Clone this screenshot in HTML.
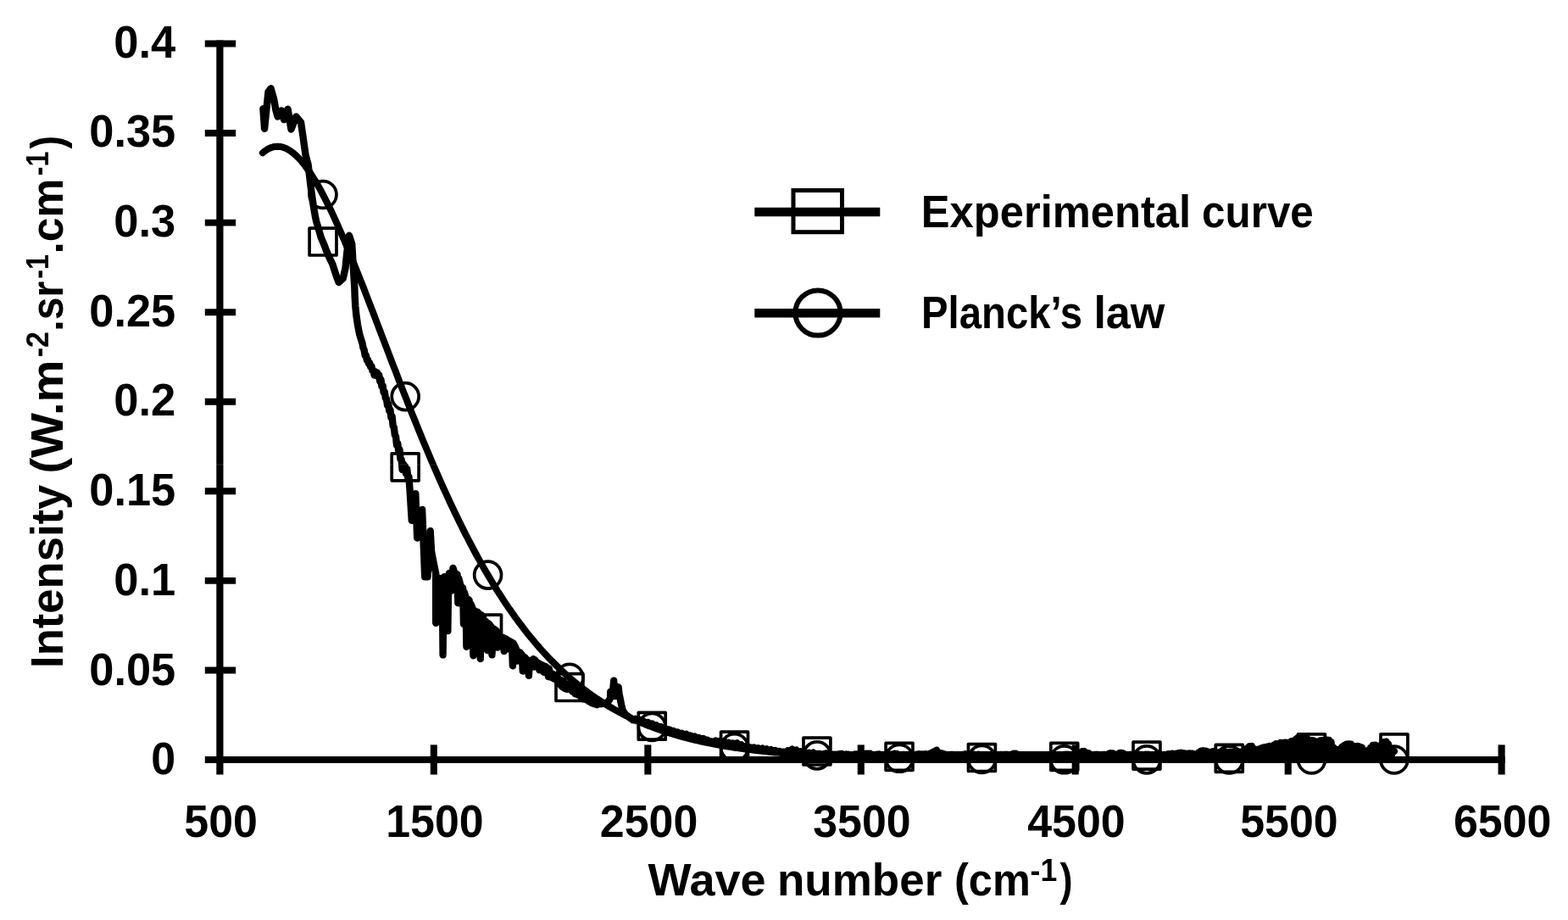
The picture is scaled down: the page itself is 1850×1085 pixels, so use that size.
<!DOCTYPE html>
<html lang="en">
<head>
<meta charset="utf-8">
<title>Experimental curve vs Planck’s law</title>
<style>html,body{margin:0;padding:0;background:#fff;}body{width:1850px;height:1085px;overflow:hidden;}</style>
</head>
<body>
<svg width="1850" height="1085" viewBox="0 0 1850 1085" style="display:block">
<rect width="1850" height="1085" fill="#fff"/>
<path d="M310.4,128.2 L312.1,151.7 L316.5,108.3 L319.6,104.3 L323.2,117.2 L325.4,129.6 L327.6,137.5 L332.0,130.4 L335.1,141.1 L339.6,128.7 L343.5,152.6 L349.3,137.5 L355.0,144.2 L357.5,161.0 L360.6,183.2 L363.6,194.2 L366.2,216.4 L369.1,238.5 L371.9,255.1 L373.2,261.1 L376.5,272.1 L378.7,279.9 L382.0,287.6 L385.4,296.5 L388.7,304.2 L392.5,311.9 L395.3,320.8 L397.5,327.4 L399.7,333.0 L404.7,328.5 L407.5,316.4 L409.1,299.8 L411.9,277.7 L415.2,287.6 L416.9,316.4 L418.3,338.5 L418.7,350.0 L419.3,361.1 L420.4,372.1 L422.0,383.2 L424.2,394.2 L427.6,405.3 L428.5,410.2 L429.6,412.5 L430.7,419.1 L431.8,419.2 L432.9,424.6 L434.0,424.4 L435.1,428.9 L436.2,428.1 L437.3,432.8 L438.4,432.1 L439.5,437.4 L440.6,437.6 L441.7,442.5 L442.8,438.3 L443.9,442.2 L445.0,439.4 L446.1,444.2 L447.2,442.4 L448.3,449.9 L449.4,447.6 L450.5,456.0 L451.6,454.9 L452.7,462.9 L453.8,462.1 L454.9,469.7 L456.0,470.5 L457.1,478.2 L458.2,476.3 L459.3,484.6 L460.4,483.3 L461.5,492.8 L462.6,491.1 L463.7,502.4 L464.8,504.0 L465.9,513.1 L467.0,514.7 L468.1,525.2 L469.2,522.9 L470.3,532.0 L471.4,530.2 L472.5,541.5 L473.6,542.0 L474.7,554.1 L475.8,547.2 L476.9,554.2 L478.0,549.8 L479.1,558.7 L480.2,553.0 L481.3,563.5 L482.4,562.2 L483.5,577.2 L485.8,613.9 L490.3,582.2 L492.2,634.5 L498.1,600.9 L501.2,680.3 L504.5,680.3 L507.7,626.1 L509.0,650.0 L510.5,658.0 L512.5,668.0 L514.2,676.0 L514.2,734.8 L515.2,684.0 L519.0,682.0 L521.8,690.0 L522.6,772.4 L523.4,690.0 L524.2,680.3 L527.5,690.0 L528.3,744.1 L529.2,684.0 L530.0,676.0 L532.5,696.7 L534.5,670.0 L537.0,678.0 L539.5,677.3 L540.4,711.3 L541.3,682.4 L543.7,691.8 L546.1,693.3 L547.0,736.0 L547.9,698.8 L549.5,704.3 L550.4,762.7 L551.3,706.1 L553.6,707.8 L554.5,745.0 L555.4,712.2 L557.5,717.3 L558.4,773.3 L559.3,720.0 L561.6,721.2 L562.5,755.0 L563.4,721.8 L565.9,724.5 L566.8,776.9 L567.7,725.1 L570.1,728.3 L571.0,758.0 L571.9,731.9 L574.3,733.9 L575.2,767.1 L576.1,735.2 L577.9,737.0 L579.6,739.3 L580.5,772.4 L581.4,741.0 L583.6,742.4 L585.8,743.9 L586.7,763.6 L587.6,746.2 L589.6,749.9 L590.5,762.0 L591.4,751.3 L593.8,752.1 L594.7,768.0 L595.6,752.9 L597.4,753.9 L599.1,754.7 L600.0,765.4 L600.9,755.9 L602.5,757.1 L604.0,757.6 L604.9,785.3 L605.8,758.8 L607.8,762.7 L609.7,767.2 L610.6,779.5 L611.5,769.3 L613.7,769.5 L615.9,772.3 L616.8,791.5 L617.7,774.5 L619.6,775.5 L620.5,786.0 L621.4,777.7 L623.0,779.1 L623.9,796.8 L624.8,779.1 L627.0,779.1 L629.2,777.3 L630.1,786.6 L631.0,778.2 L633.2,781.1 L635.4,782.3 L636.3,790.1 L637.2,783.2 L639.0,784.0 L640.7,784.8 L641.6,792.8 L642.5,785.6 L644.2,786.3 L646.0,787.9 L646.9,798.1 L647.8,788.6 L650.0,798.8 L651.6,794.4 L653.2,800.3 L654.8,796.2 L656.4,802.0 L658.0,798.9 L659.6,804.3 L661.2,801.7 L662.8,806.2 L664.4,802.9 L666.0,808.5 L667.6,806.1 L669.2,811.1 L670.8,807.6 L672.4,813.0 L674.0,810.7 L675.6,815.8 L677.2,812.3 L678.8,818.3 L680.4,814.6 L682.0,819.6 L683.6,817.4 L685.2,821.7 L686.8,818.9 L688.4,824.3 L690.0,821.8 L691.6,825.4 L693.2,823.7 L694.8,827.2 L696.4,825.4 L698.0,829.2 L699.6,827.5 L701.2,830.3 L702.8,828.4 L704.4,831.2 L706.0,829.0 L709.6,830.2 L714.0,829.5 L718.0,827.0 L720.3,823.0 L720.3,815.6 L721.5,821.0 L723.2,814.0 L724.2,802.8 L725.0,814.0 L725.5,821.0 L727.5,811.0 L728.0,821.0 L729.6,810.3 L730.5,818.0 L731.5,823.0 L733.5,833.0 L735.0,838.5 L738.0,842.5 L745.0,847.9 L747.0,849.3 L749.5,847.9 L752.0,850.0 L754.5,849.0 L757.0,851.4 L759.5,850.8 L762.0,853.0 L764.5,852.0 L767.0,854.5 L769.5,853.5 L772.0,855.8 L774.5,855.3 L777.0,857.5 L779.5,857.0 L782.0,859.2 L784.5,858.9 L787.0,860.8 L789.5,860.4 L792.0,862.4 L794.5,862.0 L797.0,863.8 L799.5,863.5 L802.0,865.3 L804.5,864.8 L807.0,866.6 L809.5,865.8 L812.0,868.2 L814.5,867.4 L817.0,869.2 L819.5,868.5 L822.0,870.5 L824.5,869.9 L827.0,872.0 L829.5,870.9 L832.0,873.3 L834.5,872.6 L837.0,874.7 L839.5,874.4 L842.0,875.6 L844.5,873.6 L847.0,874.8 L849.5,873.8 L852.0,875.4 L854.5,874.4 L857.0,876.6 L859.5,875.8 L862.0,877.4 L864.5,876.4 L867.0,877.9 L869.5,876.4 L872.0,879.0 L874.5,878.2 L877.0,880.7 L879.5,880.3 L882.0,882.5 L884.5,881.2 L887.0,883.0 L889.5,881.4 L892.0,883.1 L894.5,882.2 L897.0,884.0 L899.5,882.5 L902.0,884.8 L904.5,883.4 L907.0,885.5 L909.5,884.1 L912.0,886.0 L914.5,885.0 L917.0,886.8 L919.5,886.0 L922.0,887.4 L924.5,886.6 L927.0,887.7 L929.5,885.3 L932.0,886.2 L934.5,883.6 L937.0,885.8 L939.5,884.6 L942.0,887.3 L944.5,886.3 L947.0,888.3 L949.5,887.5 L952.0,888.8 L954.5,887.7 L957.0,889.3 L959.5,887.6 L962.0,889.4 L963.3,890.2 L964.6,888.9 L965.9,890.2 L967.2,889.1 L968.5,890.2 L969.8,889.4 L971.1,890.2 L972.4,889.1 L973.7,890.2 L975.0,888.5 L976.3,890.2 L977.6,889.4 L978.9,890.2 L980.2,889.9 L981.5,890.2 L982.8,889.8 L984.1,890.2 L985.4,889.8 L986.7,890.2 L988.0,889.6 L989.3,890.2 L990.6,889.2 L991.9,890.2 L993.2,888.9 L994.5,890.2 L995.8,889.9 L997.1,890.2 L998.4,889.5 L999.7,890.2 L1001.0,889.8 L1002.3,890.2 L1003.6,890.3 L1004.9,890.2 L1006.2,890.2 L1007.5,890.2 L1008.8,889.4 L1010.1,890.2 L1011.4,889.4 L1012.7,890.2 L1014.0,890.2 L1015.3,890.2 L1016.6,890.2 L1017.9,890.2 L1019.2,889.6 L1020.5,890.2 L1021.8,889.0 L1023.1,890.2 L1024.4,889.0 L1025.7,890.2 L1027.0,889.0 L1028.3,890.2 L1029.6,890.1 L1030.9,890.2 L1032.2,890.3 L1033.5,890.2 L1034.8,889.6 L1036.1,890.2 L1037.4,889.4 L1038.7,890.2 L1040.0,890.3 L1041.3,890.2 L1042.6,890.6 L1043.9,890.2 L1045.2,890.1 L1046.5,890.2 L1047.8,889.6 L1049.1,890.2 L1050.4,889.6 L1051.7,890.2 L1053.0,889.5 L1054.3,890.2 L1055.6,889.0 L1056.9,890.2 L1058.2,888.9 L1059.5,890.2 L1060.8,890.4 L1062.1,890.2 L1063.4,890.2 L1064.7,890.2 L1066.0,889.9 L1067.3,890.2 L1068.6,890.1 L1069.9,890.2 L1071.2,890.3 L1072.5,890.2 L1073.8,889.7 L1075.1,890.2 L1076.4,890.4 L1077.7,890.2 L1079.0,890.4 L1080.3,890.2 L1081.6,889.7 L1082.9,890.2 L1084.2,889.3 L1085.5,890.2 L1086.8,889.4 L1088.1,890.2 L1089.4,889.4 L1090.7,890.2 L1092.0,889.3 L1093.3,890.2 L1094.6,889.7 L1095.9,890.2 L1097.2,888.8 L1098.5,890.2 L1099.8,887.6 L1101.1,890.2 L1102.4,886.1 L1103.7,890.2 L1105.0,884.7 L1106.3,890.2 L1107.6,887.5 L1108.9,890.2 L1110.2,888.3 L1111.5,890.2 L1112.8,889.1 L1114.1,890.2 L1115.4,889.8 L1116.7,890.2 L1118.0,890.3 L1119.3,890.2 L1120.6,890.6 L1121.9,890.2 L1123.2,889.9 L1124.5,890.2 L1125.8,890.6 L1127.1,890.2 L1128.4,890.3 L1129.7,890.2 L1131.0,890.1 L1132.3,890.2 L1133.6,890.1 L1134.9,890.2 L1136.2,890.0 L1137.5,890.2 L1138.8,889.3 L1140.1,890.2 L1141.4,889.9 L1142.7,890.2 L1144.0,889.7 L1145.3,890.2 L1146.6,889.4 L1147.9,890.2 L1149.2,889.8 L1150.5,890.2 L1151.8,890.5 L1153.1,890.2 L1154.4,889.7 L1155.7,890.2 L1157.0,890.1 L1158.3,890.2 L1159.6,890.5 L1160.9,890.2 L1162.2,890.5 L1163.5,890.2 L1164.8,890.2 L1166.1,890.2 L1167.4,890.1 L1168.7,890.2 L1170.0,890.3 L1171.3,890.2 L1172.6,890.4 L1173.9,890.2 L1175.2,890.6 L1176.5,890.2 L1177.8,890.1 L1179.1,890.2 L1180.4,890.0 L1181.7,890.2 L1183.0,890.3 L1184.3,890.2 L1185.6,889.9 L1186.9,890.2 L1188.2,890.0 L1189.5,890.2 L1190.8,890.4 L1192.1,890.2 L1193.4,889.6 L1194.7,890.2 L1196.0,888.7 L1197.3,890.2 L1198.6,888.8 L1199.9,890.2 L1201.2,890.0 L1202.5,890.2 L1203.8,890.6 L1205.1,890.2 L1206.4,890.4 L1207.7,890.2 L1209.0,890.5 L1210.3,890.2 L1211.6,890.5 L1212.9,890.2 L1214.2,890.4 L1215.5,890.2 L1216.8,890.5 L1218.1,890.2 L1219.4,890.6 L1220.7,890.2 L1222.0,890.4 L1223.3,890.2 L1224.6,890.4 L1225.9,890.2 L1227.2,890.4 L1228.5,890.2 L1229.8,890.6 L1231.1,890.2 L1232.4,890.6 L1233.7,890.2 L1235.0,890.6 L1236.3,890.2 L1237.6,890.6 L1238.9,890.2 L1240.2,890.6 L1241.5,890.2 L1242.8,890.5 L1244.1,890.2 L1245.4,890.2 L1246.7,890.2 L1248.0,890.6 L1249.3,890.2 L1250.6,890.6 L1251.9,890.2 L1253.2,890.6 L1254.5,890.2 L1255.8,890.0 L1257.1,890.2 L1258.4,889.7 L1259.7,890.2 L1261.0,890.0 L1262.3,890.2 L1263.6,890.1 L1264.9,890.2 L1266.2,889.7 L1267.5,890.2 L1268.8,889.9 L1270.1,890.2 L1271.4,888.6 L1272.7,890.2 L1274.0,887.6 L1275.3,890.2 L1276.6,886.3 L1277.9,890.2 L1279.2,886.0 L1280.5,890.2 L1281.8,887.7 L1283.1,890.2 L1284.4,888.3 L1285.7,890.2 L1287.0,890.1 L1288.3,890.2 L1289.6,890.4 L1290.9,890.2 L1292.2,889.9 L1293.5,890.2 L1294.8,890.0 L1296.1,890.2 L1297.4,890.6 L1298.7,890.2 L1300.0,890.6 L1301.3,890.2 L1302.6,890.0 L1303.9,890.2 L1305.2,890.2 L1306.5,890.2 L1307.8,889.1 L1309.1,890.2 L1310.4,888.1 L1311.7,890.2 L1313.0,888.4 L1314.3,890.2 L1315.6,889.9 L1316.9,890.2 L1318.2,889.7 L1319.5,890.2 L1320.8,888.0 L1322.1,890.2 L1323.4,887.9 L1324.7,890.2 L1326.0,889.0 L1327.3,890.2 L1328.6,890.1 L1329.9,890.2 L1331.2,890.3 L1332.5,890.2 L1333.8,890.0 L1335.1,890.2 L1336.4,890.1 L1337.7,890.2 L1339.0,890.6 L1340.3,890.2 L1341.6,890.3 L1342.9,890.2 L1344.2,889.8 L1345.5,890.2 L1346.8,890.5 L1348.1,890.2 L1349.4,890.2 L1350.7,890.2 L1352.0,889.6 L1353.3,890.2 L1354.6,889.8 L1355.9,890.2 L1357.2,890.2 L1358.5,890.2 L1359.8,890.4 L1361.1,890.2 L1362.4,890.1 L1363.7,890.2 L1365.0,889.4 L1366.3,890.2 L1367.6,890.6 L1368.9,890.2 L1370.2,890.6 L1371.5,890.2 L1372.8,890.6 L1374.1,890.2 L1375.4,890.3 L1376.7,890.2 L1378.0,889.3 L1379.3,890.2 L1380.6,889.3 L1381.9,890.2 L1383.2,888.6 L1384.5,890.2 L1385.8,889.2 L1387.1,890.2 L1388.4,888.8 L1389.7,890.2 L1391.0,888.0 L1392.3,890.2 L1393.6,887.7 L1394.9,890.2 L1396.2,888.1 L1397.5,890.2 L1398.8,888.9 L1400.1,890.2 L1401.4,888.8 L1402.7,890.2 L1404.0,888.5 L1405.3,890.2 L1406.6,888.6 L1407.9,890.2 L1409.2,889.3 L1410.5,890.2 L1411.8,889.9 L1413.1,890.2 L1414.4,887.3 L1415.7,890.2 L1417.0,885.7 L1418.3,890.2 L1419.6,885.2 L1420.9,890.2 L1422.2,885.6 L1423.5,890.2 L1424.8,886.5 L1426.1,890.2 L1427.4,887.1 L1428.7,890.2 L1430.0,886.5 L1431.3,890.2 L1432.6,885.9 L1433.9,890.2 L1435.2,887.1 L1436.5,890.2 L1437.8,887.7 L1439.1,890.2 L1440.4,887.7 L1441.7,890.2 L1443.0,887.7 L1444.3,890.2 L1445.6,886.5 L1446.9,890.2 L1448.2,887.6 L1449.5,890.2 L1450.8,886.7 L1452.1,890.2 L1453.4,886.9 L1454.7,890.2 L1456.0,887.2 L1457.3,890.2 L1458.6,886.6 L1459.9,890.2 L1461.2,886.4 L1462.5,890.2 L1463.8,886.6 L1465.1,890.2 L1466.4,886.3 L1467.7,890.2 L1469.0,884.5 L1470.3,890.2 L1471.6,882.1 L1472.9,890.2 L1474.2,880.1 L1475.5,890.2 L1476.8,880.0 L1478.1,890.2 L1479.4,883.0 L1480.7,890.2 L1482.0,884.0 L1483.3,890.2 L1484.6,883.7 L1485.9,890.2 L1487.2,882.6 L1488.5,890.2 L1489.8,881.7 L1491.1,890.2 L1492.4,881.3 L1493.7,890.2 L1495.0,880.8 L1496.3,890.2 L1497.6,880.0 L1498.9,890.2 L1500.2,879.9 L1501.5,890.2 L1502.8,878.7 L1504.1,890.2 L1505.4,877.2 L1506.7,890.2 L1508.0,877.1 L1509.3,890.2 L1510.6,876.0 L1511.9,890.2 L1513.2,876.2 L1514.5,890.2 L1515.8,875.7 L1517.1,890.2 L1518.4,875.9 L1519.7,890.2 L1521.0,875.7 L1522.3,890.2 L1523.6,874.3 L1524.9,890.2 L1526.2,873.8 L1527.5,890.2 L1528.8,871.8 L1530.1,890.2 L1531.4,870.0 L1532.7,890.2 L1534.0,869.5 L1535.3,890.2 L1536.6,870.5 L1537.9,890.2 L1539.2,871.8 L1540.5,890.2 L1541.8,870.5 L1543.1,890.2 L1544.4,873.2 L1545.7,890.2 L1547.0,873.3 L1548.3,890.2 L1549.6,873.5 L1550.9,890.2 L1552.2,874.4 L1553.5,890.2 L1554.8,875.0 L1556.1,890.2 L1557.4,873.5 L1558.7,890.2 L1560.0,873.1 L1561.3,890.2 L1562.6,872.8 L1563.9,890.2 L1565.2,872.8 L1566.5,890.2 L1567.8,872.9 L1569.1,890.2 L1570.4,875.2 L1571.7,890.2 L1573.0,881.5 L1574.3,890.2 L1575.6,883.4 L1576.9,890.2 L1578.2,885.3 L1579.5,890.2 L1580.8,883.4 L1582.1,890.2 L1583.4,880.8 L1584.7,890.2 L1586.0,879.0 L1587.3,890.2 L1588.6,877.6 L1589.9,890.2 L1591.2,877.4 L1592.5,890.2 L1593.8,877.7 L1595.1,890.2 L1596.4,879.6 L1597.7,890.2 L1599.0,880.1 L1600.3,890.2 L1601.6,879.9 L1602.9,890.2 L1604.2,880.6 L1605.5,890.2 L1606.8,881.6 L1608.1,890.2 L1609.4,884.8 L1610.7,890.2 L1612.0,886.2 L1613.3,890.2 L1614.6,884.7 L1615.9,890.2 L1617.2,881.6 L1618.5,890.2 L1619.8,878.9 L1621.1,890.2 L1622.4,878.7 L1623.7,890.2 L1625.0,880.4 L1626.3,890.2 L1627.6,879.8 L1628.9,890.2 L1630.2,877.4 L1631.5,890.2 L1632.8,875.1 L1634.1,890.2 L1635.4,874.7 L1636.7,890.2 L1638.0,877.7 L1639.3,890.2 L1640.6,883.1 L1641.9,890.2 L1643.2,886.5 L1645.0,886.0" fill="none" stroke="#000" stroke-width="8.4" stroke-linejoin="round" stroke-linecap="round"/>
<rect x="365.1" y="269.1" width="31.9" height="31.9" fill="none" stroke="#000" stroke-width="3.7" stroke-linejoin="round"/>
<rect x="462.2" y="534.9" width="31.9" height="31.9" fill="none" stroke="#000" stroke-width="3.7" stroke-linejoin="round"/>
<rect x="559.6" y="725.1" width="31.9" height="31.9" fill="none" stroke="#000" stroke-width="3.7" stroke-linejoin="round"/>
<rect x="656.0" y="794.6" width="31.9" height="31.9" fill="none" stroke="#000" stroke-width="3.7" stroke-linejoin="round"/>
<rect x="753.3" y="840.3" width="31.9" height="31.9" fill="none" stroke="#000" stroke-width="3.7" stroke-linejoin="round"/>
<rect x="850.6" y="863.2" width="31.9" height="31.9" fill="none" stroke="#000" stroke-width="3.7" stroke-linejoin="round"/>
<rect x="948.0" y="870.1" width="31.9" height="31.9" fill="none" stroke="#000" stroke-width="3.7" stroke-linejoin="round"/>
<rect x="1045.1" y="876.4" width="31.9" height="31.9" fill="none" stroke="#000" stroke-width="3.7" stroke-linejoin="round"/>
<rect x="1142.5" y="877.6" width="31.9" height="31.9" fill="none" stroke="#000" stroke-width="3.7" stroke-linejoin="round"/>
<rect x="1239.8" y="876.4" width="31.9" height="31.9" fill="none" stroke="#000" stroke-width="3.7" stroke-linejoin="round"/>
<rect x="1337.0" y="875.2" width="31.9" height="31.9" fill="none" stroke="#000" stroke-width="3.7" stroke-linejoin="round"/>
<rect x="1434.3" y="878.4" width="31.9" height="31.9" fill="none" stroke="#000" stroke-width="3.7" stroke-linejoin="round"/>
<rect x="1531.5" y="865.8" width="31.9" height="31.9" fill="none" stroke="#000" stroke-width="3.7" stroke-linejoin="round"/>
<rect x="1629.0" y="865.8" width="31.9" height="31.9" fill="none" stroke="#000" stroke-width="3.7" stroke-linejoin="round"/>
<path d="M309.9,180.3 L312.4,178.2 L314.9,176.5 L317.5,175.1 L320.0,174.0 L322.5,173.3 L325.0,172.9 L327.5,172.7 L330.1,172.9 L332.6,173.4 L335.1,174.1 L337.6,175.2 L340.2,176.5 L342.7,178.1 L345.2,179.9 L347.7,182.0 L350.2,184.3 L352.8,186.9 L355.3,189.6 L357.8,192.7 L360.3,195.9 L362.8,199.3 L365.4,202.9 L367.9,206.8 L370.4,210.8 L372.9,214.9 L375.4,219.3 L378.0,223.8 L380.5,228.5 L383.0,233.3 L385.5,238.3 L388.0,243.3 L390.6,248.6 L393.1,253.9 L395.6,259.4 L398.1,264.9 L400.6,270.6 L403.2,276.4 L405.7,282.3 L408.2,288.2 L410.7,294.2 L413.2,300.3 L415.8,306.5 L418.3,312.7 L420.8,319.0 L423.3,325.3 L425.8,331.7 L428.4,338.1 L430.9,344.6 L433.4,351.1 L435.9,357.6 L438.4,364.2 L441.0,370.7 L443.5,377.3 L446.0,383.9 L448.5,390.5 L451.0,397.1 L453.6,403.7 L456.1,410.3 L458.6,416.9 L461.1,423.5 L463.6,430.1 L466.2,436.6 L468.7,443.2 L471.2,449.7 L473.7,456.2 L476.2,462.6 L478.8,469.1 L481.3,475.5 L483.8,481.8 L486.3,488.2 L488.9,494.4 L491.4,500.7 L493.9,506.9 L496.4,513.1 L498.9,519.2 L501.5,525.3 L504.0,531.3 L506.5,537.3 L509.0,543.2 L511.5,549.0 L514.1,554.9 L516.6,560.6 L519.1,566.3 L521.6,572.0 L524.1,577.5 L526.7,583.1 L529.2,588.5 L531.7,594.0 L534.2,599.3 L536.7,604.6 L539.3,609.8 L541.8,615.0 L544.3,620.1 L546.8,625.1 L549.3,630.1 L551.9,635.0 L554.4,639.9 L556.9,644.6 L559.4,649.4 L561.9,654.0 L564.5,658.6 L567.0,663.1 L569.5,667.6 L572.0,672.0 L574.5,676.3 L577.1,680.6 L579.6,684.8 L582.1,689.0 L584.6,693.1 L587.1,697.1 L589.7,701.0 L592.2,704.9 L594.7,708.8 L597.2,712.6 L599.7,716.3 L602.3,719.9 L604.8,723.5 L607.3,727.1 L609.8,730.5 L612.3,734.0 L614.9,737.3 L617.4,740.6 L619.9,743.9 L622.4,747.1 L624.9,750.2 L627.5,753.3 L630.0,756.3 L632.5,759.3 L635.0,762.2 L637.5,765.1 L640.1,767.9 L642.6,770.7 L645.1,773.4 L647.6,776.0 L650.2,778.7 L652.7,781.2 L655.2,783.7 L657.7,786.2 L660.2,788.6 L662.8,791.0 L665.3,793.3 L667.8,795.6 L670.3,797.9 L672.8,800.1 L675.4,802.2 L677.9,804.3 L680.4,806.4 L682.9,808.4 L685.4,810.4 L688.0,812.4 L690.5,814.3 L693.0,816.1 L695.5,818.0 L698.0,819.8 L700.6,821.5 L703.1,823.2 L705.6,824.9 L708.1,826.6 L710.6,828.2 L713.2,829.8 L715.7,831.3 L718.2,832.9 L720.7,834.3 L723.2,835.8 L725.8,837.2 L728.3,838.6 L730.8,840.0 L733.3,841.3 L735.8,842.6 L738.4,843.9 L740.9,845.1 L743.4,846.3 L745.9,847.5 L748.4,848.7 L751.0,849.8 L753.5,851.0 L756.0,852.0 L758.5,853.1 L761.0,854.2 L763.6,855.2 L766.1,856.2 L768.6,857.1 L771.1,858.1 L773.6,859.0 L776.2,859.9 L778.7,860.8 L781.2,861.7 L783.7,862.5 L786.2,863.4 L788.8,864.2 L791.3,865.0 L793.8,865.7 L796.3,866.5 L798.9,867.2 L801.4,868.0 L803.9,868.7 L806.4,869.3 L808.9,870.0 L811.5,870.7 L814.0,871.3 L816.5,871.9 L819.0,872.5 L821.5,873.1 L824.1,873.7 L826.6,874.3 L829.1,874.8 L831.6,875.4 L834.1,875.9 L836.7,876.4 L839.2,876.9 L841.7,877.4 L844.2,877.9 L846.7,878.4 L849.3,878.8 L851.8,879.3 L854.3,879.7 L856.8,880.1 L859.3,880.5 L861.9,880.9 L864.4,881.3 L866.9,881.7 L869.4,882.1 L871.9,882.4 L874.5,882.8 L877.0,883.1 L879.5,883.5 L882.0,883.8 L884.5,884.1 L887.1,884.4 L889.6,884.7 L892.1,885.0 L894.6,885.3 L897.1,885.6 L899.7,885.9 L902.2,886.1 L904.7,886.4 L907.2,886.7 L909.7,886.9 L912.3,887.2 L914.8,887.4 L917.3,887.6 L919.8,887.8 L922.3,888.1 L924.9,888.3 L927.4,888.5 L929.9,888.7 L932.4,888.9 L934.9,889.1 L937.5,889.3 L940.0,889.4 L942.5,889.6 L945.0,889.8 L947.6,890.0 L950.1,890.1 L952.6,890.3 L955.1,890.4 L957.6,890.6 L960.2,890.7 L962.7,890.9 L965.2,891.0 L967.7,891.1 L970.2,891.3 L972.8,891.4 L975.3,891.5 L977.8,891.7 L980.3,891.8 L982.8,891.9 L985.4,892.0 L987.9,892.1 L990.4,892.2 L992.9,892.3 L995.4,892.4 L998.0,892.5 L1000.5,892.6 L1003.0,892.7 L1005.5,892.8 L1008.0,892.9 L1010.6,893.0 L1013.1,893.1 L1015.6,893.1 L1018.1,893.2 L1020.6,893.3 L1023.2,893.4 L1025.7,893.4 L1028.2,893.5 L1030.7,893.6 L1033.2,893.7 L1035.8,893.7 L1038.3,893.8 L1040.8,893.8 L1043.3,893.9 L1045.8,894.0 L1048.4,894.0 L1050.9,894.1 L1053.4,894.1 L1055.9,894.2 L1058.4,894.2 L1061.0,894.3 L1063.5,894.3 L1066.0,894.4 L1068.5,894.4 L1071.0,894.5 L1073.6,894.5 L1076.1,894.6 L1078.6,894.6 L1081.1,894.6 L1083.6,894.7 L1086.2,894.7 L1088.7,894.7 L1091.2,894.8 L1093.7,894.8 L1096.3,894.9 L1098.8,894.9 L1101.3,894.9 L1103.8,894.9 L1106.3,895.0 L1108.9,895.0 L1111.4,895.0 L1113.9,895.1 L1116.4,895.1 L1118.9,895.1 L1121.5,895.1 L1124.0,895.2 L1126.5,895.2 L1129.0,895.2 L1131.5,895.2 L1134.1,895.3 L1136.6,895.3 L1139.1,895.3 L1141.6,895.3 L1144.1,895.3 L1146.7,895.4 L1149.2,895.4 L1151.7,895.4 L1154.2,895.4 L1156.7,895.4 L1159.3,895.4 L1161.8,895.5 L1164.3,895.5 L1166.8,895.5 L1169.3,895.5 L1171.9,895.5 L1174.4,895.5 L1176.9,895.5 L1179.4,895.6 L1181.9,895.6 L1184.5,895.6 L1187.0,895.6 L1189.5,895.6 L1192.0,895.6 L1194.5,895.6 L1197.1,895.6 L1199.6,895.7 L1202.1,895.7 L1204.6,895.7 L1207.1,895.7 L1209.7,895.7 L1212.2,895.7 L1214.7,895.7 L1217.2,895.7 L1219.7,895.7 L1222.3,895.7 L1224.8,895.7 L1227.3,895.7 L1229.8,895.8 L1232.3,895.8 L1234.9,895.8 L1237.4,895.8 L1239.9,895.8 L1242.4,895.8 L1245.0,895.8 L1247.5,895.8 L1250.0,895.8 L1252.5,895.8 L1255.0,895.8 L1257.6,895.8 L1260.1,895.8 L1262.6,895.8 L1265.1,895.8 L1267.6,895.8 L1270.2,895.8 L1272.7,895.9 L1275.2,895.9 L1277.7,895.9 L1280.2,895.9 L1282.8,895.9 L1285.3,895.9 L1287.8,895.9 L1290.3,895.9 L1292.8,895.9 L1295.4,895.9 L1297.9,895.9 L1300.4,895.9 L1302.9,895.9 L1305.4,895.9 L1308.0,895.9 L1310.5,895.9 L1313.0,895.9 L1315.5,895.9 L1318.0,895.9 L1320.6,895.9 L1323.1,895.9 L1325.6,895.9 L1328.1,895.9 L1330.6,895.9 L1333.2,895.9 L1335.7,895.9 L1338.2,895.9 L1340.7,895.9 L1343.2,895.9 L1345.8,895.9 L1348.3,895.9 L1350.8,895.9 L1353.3,895.9 L1355.8,895.9 L1358.4,895.9 L1360.9,895.9 L1363.4,896.0 L1365.9,896.0 L1368.4,896.0 L1371.0,896.0 L1373.5,896.0 L1376.0,896.0 L1378.5,896.0 L1381.0,896.0 L1383.6,896.0 L1386.1,896.0 L1388.6,896.0 L1391.1,896.0 L1393.7,896.0 L1396.2,896.0 L1398.7,896.0 L1401.2,896.0 L1403.7,896.0 L1406.3,896.0 L1408.8,896.0 L1411.3,896.0 L1413.8,896.0 L1416.3,896.0 L1418.9,896.0 L1421.4,896.0 L1423.9,896.0 L1426.4,896.0 L1428.9,896.0 L1431.5,896.0 L1434.0,896.0 L1436.5,896.0 L1439.0,896.0 L1441.5,896.0 L1444.1,896.0 L1446.6,896.0 L1449.1,896.0 L1451.6,896.0 L1454.1,896.0 L1456.7,896.0 L1459.2,896.0 L1461.7,896.0 L1464.2,896.0 L1466.7,896.0 L1469.3,896.0 L1471.8,896.0 L1474.3,896.0 L1476.8,896.0 L1479.3,896.0 L1481.9,896.0 L1484.4,896.0 L1486.9,896.0 L1489.4,896.0 L1491.9,896.0 L1494.5,896.0 L1497.0,896.0 L1499.5,896.0 L1502.0,896.0 L1504.5,896.0 L1507.1,896.0 L1509.6,896.0 L1512.1,896.0 L1514.6,896.0 L1517.1,896.0 L1519.7,896.0 L1522.2,896.0 L1524.7,896.0 L1527.2,896.0 L1529.7,896.0 L1532.3,896.0 L1534.8,896.0 L1537.3,896.0 L1539.8,896.0 L1542.3,896.0 L1544.9,896.0 L1547.4,896.0 L1549.9,896.0 L1552.4,896.0 L1555.0,896.0 L1557.5,896.0 L1560.0,896.0 L1562.5,896.0 L1565.0,896.0 L1567.6,896.0 L1570.1,896.0 L1572.6,896.0 L1575.1,896.0 L1577.6,896.0 L1580.2,896.0 L1582.7,896.0 L1585.2,896.0 L1587.7,896.0 L1590.2,896.0 L1592.8,896.0 L1595.3,896.0 L1597.8,896.0 L1600.3,896.0 L1602.8,896.0 L1605.4,896.0 L1607.9,896.0 L1610.4,896.0 L1612.9,896.0 L1615.4,896.0 L1618.0,896.0 L1620.5,896.0 L1623.0,896.0 L1625.5,896.0 L1628.0,896.0 L1630.6,896.0 L1633.1,896.0 L1635.6,896.0 L1638.1,896.0 L1640.6,896.0 L1643.2,896.0 L1645.7,896.0" fill="none" stroke="#000" stroke-width="8.0" stroke-linejoin="round" stroke-linecap="round"/>
<circle cx="381.0" cy="229.5" r="15.95" fill="none" stroke="#000" stroke-width="3.7"/>
<circle cx="478.2" cy="467.6" r="15.95" fill="none" stroke="#000" stroke-width="3.7"/>
<circle cx="575.6" cy="678.1" r="15.95" fill="none" stroke="#000" stroke-width="3.7"/>
<circle cx="672.0" cy="799.3" r="15.95" fill="none" stroke="#000" stroke-width="3.7"/>
<circle cx="769.3" cy="857.4" r="15.95" fill="none" stroke="#000" stroke-width="3.7"/>
<circle cx="866.6" cy="881.6" r="15.95" fill="none" stroke="#000" stroke-width="3.7"/>
<circle cx="964.0" cy="890.9" r="15.95" fill="none" stroke="#000" stroke-width="3.7"/>
<circle cx="1061.1" cy="894.3" r="15.95" fill="none" stroke="#000" stroke-width="3.7"/>
<circle cx="1158.5" cy="895.4" r="15.95" fill="none" stroke="#000" stroke-width="3.7"/>
<circle cx="1255.7" cy="895.8" r="15.95" fill="none" stroke="#000" stroke-width="3.7"/>
<circle cx="1353.0" cy="895.9" r="15.95" fill="none" stroke="#000" stroke-width="3.7"/>
<circle cx="1450.3" cy="896.0" r="15.95" fill="none" stroke="#000" stroke-width="3.7"/>
<circle cx="1547.5" cy="896.0" r="15.95" fill="none" stroke="#000" stroke-width="3.7"/>
<circle cx="1644.9" cy="896.0" r="15.95" fill="none" stroke="#000" stroke-width="3.7"/>
<g stroke="#000" stroke-width="7.9" fill="none">
<line x1="259.4" y1="47.4" x2="259.4" y2="913.5" stroke-width="8.2"/>
<line x1="241.8" y1="896.0" x2="1775.65" y2="896.0"/>
<line x1="241.8" y1="790.44" x2="278.2" y2="790.44"/>
<line x1="241.8" y1="684.88" x2="278.2" y2="684.88"/>
<line x1="241.8" y1="579.31" x2="278.2" y2="579.31"/>
<line x1="241.8" y1="473.75" x2="278.2" y2="473.75"/>
<line x1="241.8" y1="368.19" x2="278.2" y2="368.19"/>
<line x1="241.8" y1="262.62" x2="278.2" y2="262.62"/>
<line x1="241.8" y1="157.06" x2="278.2" y2="157.06"/>
<line x1="241.8" y1="51.50" x2="278.2" y2="51.50"/>
<line x1="511.80" y1="878.4" x2="511.80" y2="913.5" stroke-width="8.1"/>
<line x1="764.35" y1="878.4" x2="764.35" y2="913.5" stroke-width="8.1"/>
<line x1="1015.80" y1="878.4" x2="1015.80" y2="913.5" stroke-width="8.1"/>
<line x1="1268.70" y1="878.4" x2="1268.70" y2="913.5" stroke-width="8.1"/>
<line x1="1519.75" y1="878.4" x2="1519.75" y2="913.5" stroke-width="8.1"/>
<line x1="1771.60" y1="878.4" x2="1771.60" y2="913.5" stroke-width="8.1"/>
</g>
<g font-family='"Liberation Sans", sans-serif' font-weight="bold" fill="#000">
<text x="178.29999999999998" y="913.3" text-anchor="start" textLength="28.9" lengthAdjust="spacingAndGlyphs" font-size="54">0</text>
<text x="105.29999999999998" y="807.6" text-anchor="start" textLength="101.9" lengthAdjust="spacingAndGlyphs" font-size="54">0.05</text>
<text x="134.2" y="701.9" text-anchor="start" textLength="73.0" lengthAdjust="spacingAndGlyphs" font-size="54">0.1</text>
<text x="105.29999999999998" y="596.1" text-anchor="start" textLength="101.9" lengthAdjust="spacingAndGlyphs" font-size="54">0.15</text>
<text x="134.2" y="490.4" text-anchor="start" textLength="73.0" lengthAdjust="spacingAndGlyphs" font-size="54">0.2</text>
<text x="105.29999999999998" y="384.7" text-anchor="start" textLength="101.9" lengthAdjust="spacingAndGlyphs" font-size="54">0.25</text>
<text x="134.2" y="278.9" text-anchor="start" textLength="73.0" lengthAdjust="spacingAndGlyphs" font-size="54">0.3</text>
<text x="105.29999999999998" y="173.2" text-anchor="start" textLength="101.9" lengthAdjust="spacingAndGlyphs" font-size="54">0.35</text>
<text x="134.2" y="67.5" text-anchor="start" textLength="73.0" lengthAdjust="spacingAndGlyphs" font-size="54">0.4</text>
<text x="217.3" y="986.7" text-anchor="start" textLength="86.6" lengthAdjust="spacingAndGlyphs" font-size="54">500</text>
<text x="455.2" y="986.7" text-anchor="start" textLength="115.5" lengthAdjust="spacingAndGlyphs" font-size="54">1500</text>
<text x="707.8" y="986.7" text-anchor="start" textLength="115.5" lengthAdjust="spacingAndGlyphs" font-size="54">2500</text>
<text x="959.2" y="986.7" text-anchor="start" textLength="115.5" lengthAdjust="spacingAndGlyphs" font-size="54">3500</text>
<text x="1212.2" y="986.7" text-anchor="start" textLength="115.5" lengthAdjust="spacingAndGlyphs" font-size="54">4500</text>
<text x="1463.2" y="986.7" text-anchor="start" textLength="115.5" lengthAdjust="spacingAndGlyphs" font-size="54">5500</text>
<text x="1715.0" y="986.7" text-anchor="start" textLength="115.5" lengthAdjust="spacingAndGlyphs" font-size="54">6500</text>
<text><tspan x="1086.82" y="267.9" font-size="54" textLength="318.24" lengthAdjust="spacingAndGlyphs">Experimental</tspan> <tspan x="1418.07" y="267.9" font-size="54" textLength="131.73" lengthAdjust="spacingAndGlyphs">curve</tspan></text>
<text><tspan x="1087.04" y="387.2" font-size="54" textLength="190.14" lengthAdjust="spacingAndGlyphs">Planck’s</tspan> <tspan x="1290.38" y="387.2" font-size="54" textLength="84.02" lengthAdjust="spacingAndGlyphs">law</tspan></text>
<text><tspan x="764.4" y="1056.4" font-size="54" textLength="139.32" lengthAdjust="spacingAndGlyphs">Wave</tspan> <tspan x="916.96" y="1056.4" font-size="54" textLength="194.4" lengthAdjust="spacingAndGlyphs">number</tspan> <tspan x="1126.03" y="1056.4" font-size="54" textLength="89.74" lengthAdjust="spacingAndGlyphs">(cm</tspan><tspan x="1215.62" y="1038.9" font-size="36" textLength="31.69" lengthAdjust="spacingAndGlyphs">-1</tspan><tspan x="1250.49" y="1056.4" font-size="54" textLength="15.11" lengthAdjust="spacingAndGlyphs">)</tspan></text>
<text transform="translate(73.9,800) rotate(-90)"><tspan x="12.09" y="0" font-size="54" textLength="216.2" lengthAdjust="spacingAndGlyphs">Intensity</tspan> <tspan x="241.44" y="0" font-size="54" textLength="134.03" lengthAdjust="spacingAndGlyphs">(W.m</tspan><tspan x="378.78" y="-17.3" font-size="36" textLength="30.25" lengthAdjust="spacingAndGlyphs">-2</tspan><tspan x="409.25" y="0" font-size="54" textLength="58.97" lengthAdjust="spacingAndGlyphs">.sr</tspan><tspan x="471.26" y="-17.3" font-size="36" textLength="28.65" lengthAdjust="spacingAndGlyphs">-1</tspan><tspan x="500.42" y="0" font-size="54" textLength="88.84" lengthAdjust="spacingAndGlyphs">.cm</tspan><tspan x="592.86" y="-17.3" font-size="36" textLength="28.65" lengthAdjust="spacingAndGlyphs">-1</tspan><tspan x="624.48" y="0" font-size="54" textLength="15.71" lengthAdjust="spacingAndGlyphs">)</tspan></text>
</g>
<g stroke="#000" fill="none">
<line x1="890.3" y1="250.0" x2="1038.3" y2="250.0" stroke-width="10.4"/>
<line x1="890.3" y1="369.2" x2="1038.3" y2="369.2" stroke-width="10.4"/>
<rect x="936" y="224.5" width="57.5" height="49.2" stroke-width="5"/>
<circle cx="965" cy="369" r="26.6" stroke-width="6"/>
</g>
<rect x="0" y="547.5" width="1850" height="1" fill="#fff" fill-opacity="0.16"/>
</svg>
</body>
</html>
